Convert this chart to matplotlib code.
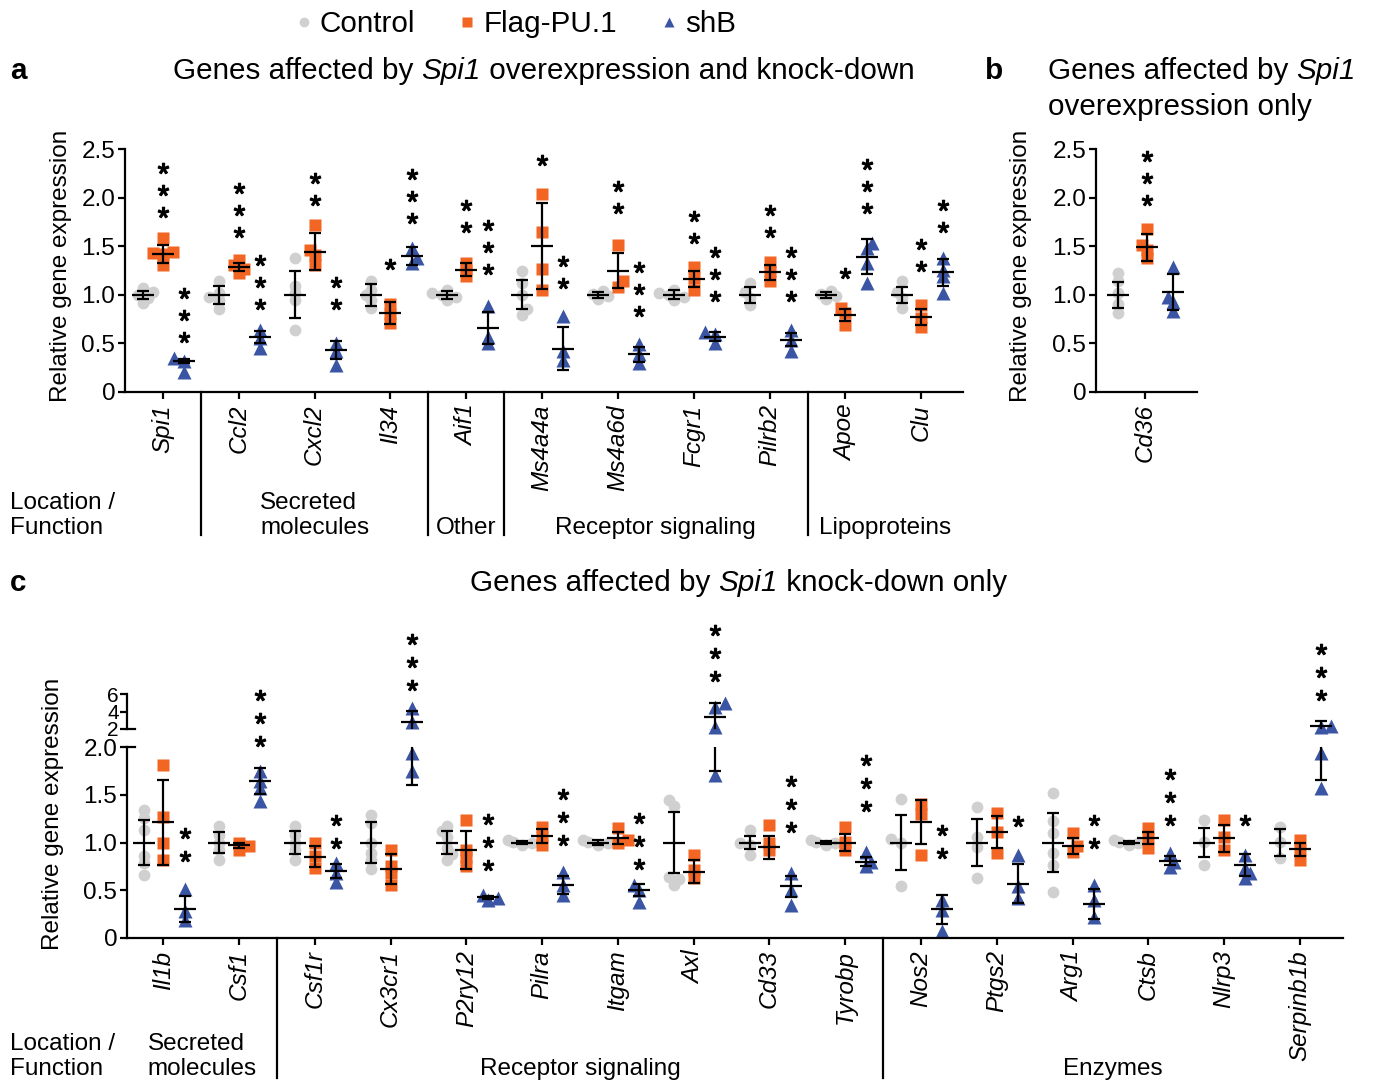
import matplotlib
matplotlib.use('Agg')
import matplotlib.pyplot as plt
from matplotlib.lines import Line2D
from matplotlib.transforms import offset_copy
import numpy as np

plt.rcParams['font.family'] = ['Liberation Sans', 'DejaVu Sans']
plt.rcParams['mathtext.fontset'] = 'custom'
plt.rcParams['mathtext.rm'] = 'Liberation Sans'

# ---------------- panel a: Spi1 overexpression and knock-down ----------------
genes_a = ['Spi1', 'Ccl2', 'Cxcl2', 'Il34', 'Aif1', 'Ms4a4a', 'Ms4a6d',
           'Fcgr1', 'Pilrb2', 'Apoe', 'Clu']
groups_a = ['', 'Secreted\nmolecules', 'Other', 'Receptor signaling', 'Lipoproteins']
group_sizes_a = [1, 3, 1, 4, 2]

ctrl_a = [[0.92, 0.97, 1.0, 1.03, 1.07], [0.85, 0.95, 0.98, 1.02, 1.14],
          [0.64, 0.95, 1.02, 1.09, 1.38], [0.86, 0.95, 1.0, 1.05, 1.14],
          [0.95, 0.98, 1.0, 1.02, 1.05], [0.79, 0.85, 1.0, 1.12, 1.24],
          [0.96, 0.99, 1.01, 1.04], [0.95, 0.98, 1.0, 1.02, 1.05],
          [0.9, 0.97, 1.03, 1.12], [0.96, 0.99, 1.01, 1.04],
          [0.86, 0.97, 1.03, 1.14]]
ctrl_a_mean = [1.0] * 11
ctrl_a_err = [0.04, 0.09, 0.24, 0.115, 0.04, 0.15, 0.03, 0.045, 0.08, 0.03, 0.08]

flag_a = [[1.31, 1.42, 1.43, 1.44, 1.58], [1.22, 1.27, 1.31, 1.36],
          [1.31, 1.41, 1.46, 1.72], [0.71, 0.8, 0.91], [1.19, 1.26, 1.33],
          [1.05, 1.27, 1.65, 2.04], [1.08, 1.14, 1.51], [1.05, 1.17, 1.29],
          [1.14, 1.24, 1.34], [0.69, 0.81, 0.86], [0.67, 0.76, 0.9]]
flag_a_mean = [1.42, 1.29, 1.445, 0.81, 1.26, 1.50, 1.25, 1.165, 1.23, 0.795, 0.77]
flag_a_err = [0.095, 0.04, 0.19, 0.115, 0.065, 0.44, 0.175, 0.085, 0.08, 0.06, 0.08]

shb_a = [[0.21, 0.32, 0.35], [0.45, 0.555, 0.64], [0.28, 0.42, 0.5],
         [1.33, 1.38, 1.48], [0.5, 0.57, 0.88], [0.33, 0.42, 0.78],
         [0.3, 0.39, 0.49], [0.5, 0.6, 0.62], [0.42, 0.54, 0.64],
         [1.12, 1.33, 1.48, 1.53], [1.02, 1.19, 1.26, 1.38]]
shb_a_mean = [0.32, 0.565, 0.43, 1.40, 0.66, 0.445, 0.39, 0.57, 0.54, 1.39, 1.23]
shb_a_err = [0.02, 0.06, 0.09, 0.09, 0.165, 0.22, 0.077, 0.045, 0.07, 0.18, 0.14]

# (gene index, series, number of stars, height of lowest star)
stars_a = [(0, 'flag', 3, 1.85), (0, 'shb', 3, 0.565), (1, 'flag', 3, 1.65),
           (1, 'shb', 3, 0.91), (2, 'flag', 2, 1.98), (2, 'shb', 2, 0.91),
           (3, 'flag', 1, 1.32), (3, 'shb', 3, 1.79), (4, 'flag', 2, 1.70),
           (4, 'shb', 3, 1.27), (5, 'flag', 1, 2.39), (5, 'shb', 2, 1.12),
           (6, 'flag', 2, 1.89), (6, 'shb', 3, 0.83), (7, 'flag', 2, 1.58),
           (7, 'shb', 3, 0.99), (8, 'flag', 2, 1.65), (8, 'shb', 3, 0.99),
           (9, 'flag', 1, 1.22), (9, 'shb', 3, 1.89), (10, 'flag', 2, 1.30),
           (10, 'shb', 2, 1.70)]

# ---------------- panel b: overexpression only ----------------
genes_b = ['Cd36']
ctrl_b = [[0.81, 0.91, 1.02, 1.14, 1.22]]
ctrl_b_mean, ctrl_b_err = [1.0], [0.135]
flag_b = [[1.38, 1.46, 1.51, 1.68]]
flag_b_mean, flag_b_err = [1.49], [0.14]
shb_b = [[0.83, 0.93, 0.98, 1.29]]
shb_b_mean, shb_b_err = [1.03], [0.185]
stars_b = [(0, 'flag', 3, 1.98)]

# ---------------- panel c: knock-down only ----------------
genes_c = ['Il1b', 'Csf1', 'Csf1r', 'Cx3cr1', 'P2ry12', 'Pilra', 'Itgam', 'Axl',
           'Cd33', 'Tyrobp', 'Nos2', 'Ptgs2', 'Arg1', 'Ctsb', 'Nlrp3', 'Serpinb1b']
groups_c = ['Secreted\nmolecules', 'Receptor signaling', 'Enzymes']
group_sizes_c = [2, 8, 6]

ctrl_c = [[0.66, 0.79, 0.86, 1.13, 1.26, 1.34], [0.82, 0.92, 0.99, 1.08, 1.17],
          [0.82, 0.92, 0.99, 1.08, 1.17], [0.72, 0.82, 0.89, 1.0, 1.2, 1.29],
          [0.82, 0.88, 0.94, 1.06, 1.12, 1.17], [0.97, 0.99, 1.01, 1.03],
          [0.97, 0.99, 1.01, 1.03], [0.555, 0.615, 0.64, 1.38, 1.445],
          [0.87, 0.975, 1.0, 1.13], [0.97, 0.99, 1.01, 1.03],
          [0.54, 1.0, 1.04, 1.46], [0.625, 0.95, 1.06, 1.375],
          [0.485, 0.765, 0.89, 1.1, 1.22, 1.515], [0.97, 0.99, 1.01, 1.03],
          [0.765, 1.01, 1.235], [0.835, 1.01, 1.165]]
ctrl_c_mean = [1.0] * 16
ctrl_c_err = [0.24, 0.11, 0.125, 0.21, 0.125, 0.02, 0.025, 0.315, 0.065, 0.02,
              0.29, 0.25, 0.305, 0.02, 0.15, 0.145]

flag_c = [[0.82, 0.99, 1.27, 1.81], [0.92, 0.96, 1.0], [0.73, 0.855, 1.0],
          [0.56, 0.68, 0.75, 0.925], [0.75, 0.85, 0.92, 1.24], [0.97, 1.06, 1.165],
          [1.0, 1.03, 1.15], [0.625, 0.71, 0.87], [0.92, 0.99, 1.18],
          [0.92, 1.01, 1.165], [0.87, 1.3, 1.4], [0.89, 1.11, 1.305],
          [0.905, 0.96, 1.1], [0.94, 1.045, 1.15], [0.92, 1.06, 1.235],
          [0.815, 0.92, 1.025]]
flag_c_mean = [1.21, 0.97, 0.85, 0.72, 0.92, 1.07, 1.045, 0.695, 0.95, 1.0,
               1.21, 1.11, 0.965, 1.045, 1.045, 0.93]
flag_c_err = [0.445, 0.03, 0.11, 0.155, 0.2, 0.075, 0.065, 0.12, 0.12, 0.085,
              0.23, 0.165, 0.082, 0.06, 0.14, 0.07]

shb_c = [[0.19, 0.28, 0.51], [1.43, 1.57, 1.64, 1.745], [0.59, 0.68, 0.785],
         [1.745, 1.94, 2.85, 4.38], [0.4, 0.42, 0.45], [0.45, 0.555, 0.695],
         [0.38, 0.5, 0.555], [1.71, 2.26, 4.5, 4.94], [0.345, 0.5, 0.68],
         [0.75, 0.8, 0.9], [0.07, 0.29, 0.4], [0.415, 0.54, 0.87],
         [0.22, 0.4, 0.555], [0.745, 0.8, 0.885], [0.625, 0.68, 0.73, 0.87],
         [1.57, 1.94, 2.25, 2.35]]
shb_c_mean = [0.30, 1.64, 0.70, 2.85, 0.425, 0.555, 0.50, 3.35, 0.54, 0.80,
              0.30, 0.57, 0.355, 0.81, 0.765, 2.3]
shb_c_err = [0.135, 0.135, 0.07, 1.25, 0.02, 0.09, 0.063, 1.6, 0.107, 0.05,
             0.15, 0.205, 0.16, 0.047, 0.113, 0.65]

stars_c = [(0, 'shb', 2, 0.855), (1, 'shb', 3, 2.06), (2, 'shb', 2, 0.995),
           (3, 'shb', 3, 2.65), (4, 'shb', 3, 0.76), (5, 'shb', 3, 1.03),
           (6, 'shb', 3, 0.775), (7, 'shb', 3, 2.74), (8, 'shb', 3, 1.165),
           (9, 'shb', 3, 1.38), (10, 'shb', 2, 0.89), (11, 'shb', 1, 1.22),
           (12, 'shb', 2, 1.0), (13, 'shb', 3, 1.24), (14, 'shb', 1, 1.235),
           (15, 'shb', 3, 2.54)]

# ---------------- style ----------------
W, H = 1373, 1081
FS = 17.5
FS_BIG = 21.3
LW = 1.6
GRAY, ORANGE, BLUE = '#d0d0d0', '#f26522', '#3b55a5'
STYLE = {'ctrl': (GRAY, 'o', 8.5), 'flag': (ORANGE, 's', 8.5), 'shb': (BLUE, '^', 10)}
OFFS = {'ctrl': -0.26, 'flag': 0.0, 'shb': 0.28}
OFFS_B = {'ctrl': -0.36, 'flag': 0.03, 'shb': 0.37}

fig = plt.figure(figsize=(W / 100, H / 100), dpi=100)


def add_axes_px(left, top, right, bottom):
    return fig.add_axes([left / W, 1 - bottom / H, (right - left) / W, (bottom - top) / H])


def style_axes(ax, yticks, ylabels, fs=FS):
    for s in ('top', 'right'):
        ax.spines[s].set_visible(False)
    for s in ('left', 'bottom'):
        ax.spines[s].set_linewidth(LW)
    ax.set_yticks(yticks)
    ax.set_yticklabels(ylabels, fontsize=fs)
    ax.tick_params(axis='y', direction='out', length=5, width=LW, pad=2)
    ax.tick_params(axis='x', direction='out', length=5, width=LW, pad=4)


def swarm(axis_for, x0, vals, d=11.0):
    # compact beeswarm in pixel space, alternating sides
    disp = [axis_for(v).transData.transform((x0, v)) for v in vals]
    placed, xs = [], [0.0] * len(vals)
    for n, i in enumerate(np.argsort(vals)):
        px, py = disp[i]
        sign = 1 if n % 2 else -1
        for k in (0, 1, -1, 2, -2, 3, -3):
            cx = px + sign * k * d * 0.45
            if all(np.hypot(cx - qx, py - qy) >= d * 0.6 for qx, qy in placed):
                break
        placed.append((cx, py))
        xs[i] = axis_for(vals[i]).transData.inverted().transform((cx, py))[0]
    return xs


def draw_series(axis_for, extra_ax, centers, pts, means, errs, key, offs):
    color, marker, ms = STYLE[key]
    for c0, vals, m, e in zip(centers, pts, means, errs):
        x0 = c0 + offs[key]
        for x, v in zip(swarm(axis_for, x0, vals), vals):
            axis_for(v).plot(x, v, ls='none', marker=marker, ms=ms, color=color,
                             mec='none', clip_on=False, zorder=2)
        targets = [axis_for(0)]
        if extra_ax is not None and m + e > 2:
            targets.append(extra_ax)
        for ax in targets:
            ax.errorbar([x0], [m], yerr=[e], fmt='none', ecolor='k', elinewidth=LW,
                        capsize=4.2, capthick=LW, zorder=4)
        axis_for(m).plot(x0, m, marker='_', ms=16, mew=LW, color='k',
                         clip_on=False, zorder=4)


def draw_stars(ax, centers, stars, offs, gap=22):
    for gi, key, n, base in stars:
        x = centers[gi] + offs[key]
        for k in range(n):
            tr = offset_copy(ax.transData, fig=fig, y=k * gap, units='dots')
            ax.plot(x, base, marker='$*$', ms=7.5, color='k', transform=tr,
                    clip_on=False, zorder=5)


def draw_groups(ax, names, sizes, drop_px, label_y_px):
    h = ax.get_window_extent().height
    x_lo, x_hi = ax.get_xlim()
    edges = np.cumsum(sizes)[:-1] - 0.5
    for e in edges:
        ax.plot([e, e], [0, -drop_px / h], color='k', lw=LW,
                transform=ax.get_xaxis_transform(), clip_on=False)
    bounds = [x_lo] + list(edges) + [x_hi]
    for name, lo, hi in zip(names, bounds[:-1], bounds[1:]):
        if name:
            xf = fig.transFigure.inverted().transform(ax.transData.transform(((lo + hi) / 2, 0)))[0]
            fig.text(xf, 1 - label_y_px / H, name, ha='center', va='bottom',
                     multialignment='left', fontsize=FS)


def rich_text(ax, x_px, bottom_px, parts):
    # chain text pieces (regular / italic) along one baseline
    s, st = parts[0]
    t = fig.text(x_px / W, 1 - bottom_px / H, s, style=st, fontsize=FS_BIG,
                 ha='left', va='bottom')
    for s, st in parts[1:]:
        t = ax.annotate(s, xy=(1, 0), xycoords=t, ha='left', va='bottom',
                        style=st, fontsize=FS_BIG, annotation_clip=False)


# ---------------- panel a ----------------
ax_a = add_axes_px(125, 149, 963, 392)
ax_a.set_xlim(-0.5, 10.55)
ax_a.set_ylim(0, 2.5)
style_axes(ax_a, [0, 0.5, 1.0, 1.5, 2.0, 2.5], ['0', '0.5', '1.0', '1.5', '2.0', '2.5'])
xa = np.arange(len(genes_a))
ax_a.set_xticks(xa)
ax_a.set_xticklabels(genes_a, rotation=90, style='italic', fontsize=FS)
fa = lambda v: ax_a
draw_series(fa, None, xa, ctrl_a, ctrl_a_mean, ctrl_a_err, 'ctrl', OFFS)
draw_series(fa, None, xa, flag_a, flag_a_mean, flag_a_err, 'flag', OFFS)
draw_series(fa, None, xa, shb_a, shb_a_mean, shb_a_err, 'shb', OFFS)
draw_stars(ax_a, xa, stars_a, OFFS)
draw_groups(ax_a, groups_a, group_sizes_a, 143, 539)
fig.text(10 / W, 1 - 539 / H, 'Location /\nFunction', ha='left', va='bottom', fontsize=FS)

# ---------------- panel b ----------------
ax_b = add_axes_px(1096, 149, 1197, 392)
ax_b.set_xlim(-0.65, 0.69)
ax_b.set_ylim(0, 2.5)
style_axes(ax_b, [0, 0.5, 1.0, 1.5, 2.0, 2.5], ['0', '0.5', '1.0', '1.5', '2.0', '2.5'])
xb = np.arange(len(genes_b))
ax_b.set_xticks(xb)
ax_b.set_xticklabels(genes_b, rotation=90, style='italic', fontsize=FS)
fb = lambda v: ax_b
draw_series(fb, None, xb, ctrl_b, ctrl_b_mean, ctrl_b_err, 'ctrl', OFFS_B)
draw_series(fb, None, xb, flag_b, flag_b_mean, flag_b_err, 'flag', OFFS_B)
draw_series(fb, None, xb, shb_b, shb_b_mean, shb_b_err, 'shb', OFFS_B)
draw_stars(ax_b, xb, stars_b, OFFS_B)

# ---------------- panel c (broken y axis) ----------------
ax_c = add_axes_px(127, 747, 1343, 938)
ax_cu = add_axes_px(127, 694, 1343, 729)
ax_c.set_xlim(-0.48, 15.57)
ax_cu.set_xlim(-0.48, 15.57)
ax_c.set_ylim(0, 2)
ax_cu.set_ylim(2, 6)
style_axes(ax_c, [0, 0.5, 1.0, 1.5, 2.0], ['0', '0.5', '1.0', '1.5', '2.0'])
style_axes(ax_cu, [2, 4, 6], ['2', '4', '6'], fs=15)
ax_cu.tick_params(axis='y', pad=1)
ax_cu.spines['bottom'].set_visible(False)
ax_cu.set_xticks([])
ax_cu.patch.set_visible(False)
xc = np.arange(len(genes_c))
ax_c.set_xticks(xc)
ax_c.set_xticklabels(genes_c, rotation=90, style='italic', fontsize=FS)
fc = lambda v: ax_cu if v > 2 else ax_c
draw_series(fc, ax_cu, xc, ctrl_c, ctrl_c_mean, ctrl_c_err, 'ctrl', OFFS)
draw_series(fc, ax_cu, xc, flag_c, flag_c_mean, flag_c_err, 'flag', OFFS)
draw_series(fc, ax_cu, xc, shb_c, shb_c_mean, shb_c_err, 'shb', OFFS)
draw_stars(ax_c, xc, stars_c, OFFS, gap=23)
# break marks on the y axis
wc = ax_c.get_window_extent().width
for ax, yb in ((ax_c, 2), (ax_cu, 2)):
    ax.plot([0, 8 / wc], [yb, yb], color='k', lw=LW,
            transform=ax.get_yaxis_transform(), clip_on=False)
draw_groups(ax_c, groups_c, group_sizes_c, 140, 1080)
fig.text(10 / W, 1 - 1080 / H, 'Location /\nFunction', ha='left', va='bottom', fontsize=FS)

# ---------------- titles, axis labels, legend ----------------
for x_px, y_px in ((61, 266), (1021, 266), (53, 814)):
    fig.text(x_px / W, 1 - y_px / H, 'Relative gene expression', rotation=90,
             ha='center', va='center', fontsize=FS)

fig.text(10 / W, 1 - 79 / H, 'a', fontsize=FS_BIG, fontweight='bold', va='baseline')
fig.text(985 / W, 1 - 79 / H, 'b', fontsize=FS_BIG, fontweight='bold', va='baseline')
fig.text(10 / W, 1 - 591 / H, 'c', fontsize=FS_BIG, fontweight='bold', va='baseline')
rich_text(ax_a, 173, 85, [('Genes affected by ', 'normal'), ('Spi1', 'italic'),
                          (' overexpression and knock-down', 'normal')])
rich_text(ax_b, 1048, 85, [('Genes affected by ', 'normal'), ('Spi1', 'italic')])
fig.text(1048 / W, 1 - 121 / H, 'overexpression only', fontsize=FS_BIG,
         ha='left', va='bottom')
rich_text(ax_c, 470, 597, [('Genes affected by ', 'normal'), ('Spi1', 'italic'),
                           (' knock-down only', 'normal')])

handles = [Line2D([], [], ls='none', marker='o', ms=7, color=GRAY, mec='none'),
           Line2D([], [], ls='none', marker='s', ms=7.5, color=ORANGE, mec='none'),
           Line2D([], [], ls='none', marker='^', ms=7.5, color=BLUE, mec='none')]
fig.legend(handles, ['Control', 'Flag-PU.1', 'shB'], loc='center',
           bbox_to_anchor=(516 / W, 1 - 24 / H), ncol=3, frameon=False,
           fontsize=FS_BIG, handlelength=0.5, handletextpad=0.3,
           columnspacing=1.5, borderpad=0)

fig.savefig('out.png', dpi=100)
plt.close(fig)
